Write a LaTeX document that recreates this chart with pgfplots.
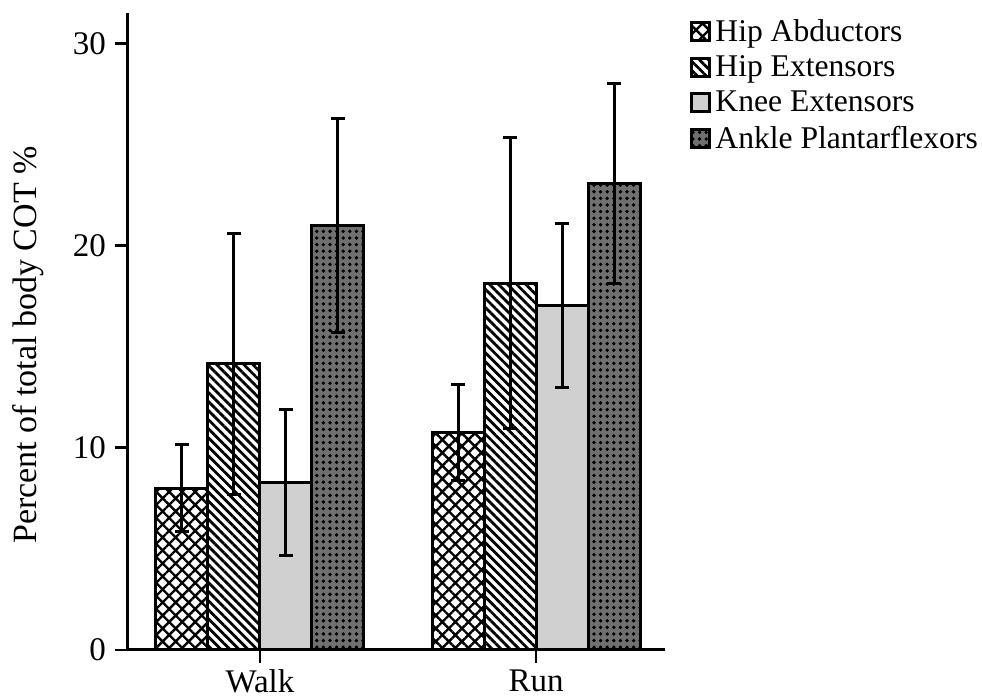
\documentclass[border=0pt]{standalone}
\usepackage{pgfplots}
\pgfplotsset{compat=1.18}
\usepackage{pgfplotstable}
\usetikzlibrary{patterns.meta}
\usepackage{fontspec}
\setmainfont{Liberation Serif}

% Muscle group share of total-body cost of transport (mean, SD)
\pgfplotstableread{
x  HA    HAe   HE    HEe   KE    KEe   AP    APe
0  8.00  2.15  14.15 6.45  8.27  3.60  21.00 5.30
1  10.75 2.38  18.14 7.20  17.04 4.05  23.08 4.95
}\cotdata

\definecolor{kneegray}{RGB}{208,208,208}
\definecolor{anklegray}{RGB}{112,112,112}

\begin{document}
\begin{tikzpicture}
\useasboundingbox (0,0) rectangle (491pt,350pt);
\begin{axis}[
  at={(64pt,25pt)}, anchor=south west,
  scale only axis,
  width=268.5pt, height=318.3pt,
  xmin=-0.478, xmax=1.467,
  ymin=0, ymax=31.48,
  enlargelimits=false,
  axis x line*=bottom, axis y line*=left,
  axis line style={line width=1.5pt},
  ybar=0pt, bar width=26pt,
  xtick={0,1}, xticklabels={Walk,Run},
  ytick={0,10,20,30},
  tick align=outside,
  major tick length=6.5pt,
  tick style={line width=1.4pt, black},
  tick label style={font=\fontsize{16.5}{19}\selectfont},
  /pgf/number format/assume math mode=true,
  yticklabel style={xshift=-1pt},
  ylabel={Percent of total body COT \%},
  ylabel style={font=\fontsize{17}{20}\selectfont, at={(axis description cs:-0.186,0.479)}, anchor=center},
  legend style={draw=none, fill=none, at={(1.034,1.001)}, anchor=north west,
    font=\fontsize{15.8}{19}\selectfont, row sep=3.7pt, column sep=1.2pt,
    nodes={inner sep=1pt}},
  legend cell align=left,
  legend image code/.code={\draw[#1, line width=1.5pt] (0pt,-4.6pt) rectangle (9.2pt,4.6pt);},
  error bars/y dir=both, error bars/y explicit,
  error bars/error bar style={line width=1.5pt, black},
  error bars/error mark options={line width=1.5pt, mark size=3.3pt, black, rotate=90},
  every axis plot/.append style={draw=black, line width=1.5pt},
]
\addplot[fill=white, postaction={pattern={Hatch[angle=45, distance=4.6pt, line width=1.2pt]}, pattern color=black}]
  table[x=x, y=HA, y error=HAe] {\cotdata};
\addlegendentry{Hip Abductors}
\addplot[fill=white, postaction={pattern={Lines[angle=-45, distance=3.2pt, line width=1.4pt]}, pattern color=black}]
  table[x=x, y=HE, y error=HEe] {\cotdata};
\addlegendentry{Hip Extensors}
\addplot[fill=kneegray]
  table[x=x, y=KE, y error=KEe] {\cotdata};
\addlegendentry{Knee Extensors}
\addplot[fill=anklegray, postaction={pattern={Dots[distance=3.3pt, radius=0.95pt]}, pattern color=black}]
  table[x=x, y=AP, y error=APe] {\cotdata};
\addlegendentry{Ankle Plantarflexors}
\end{axis}
\end{tikzpicture}
\end{document}
